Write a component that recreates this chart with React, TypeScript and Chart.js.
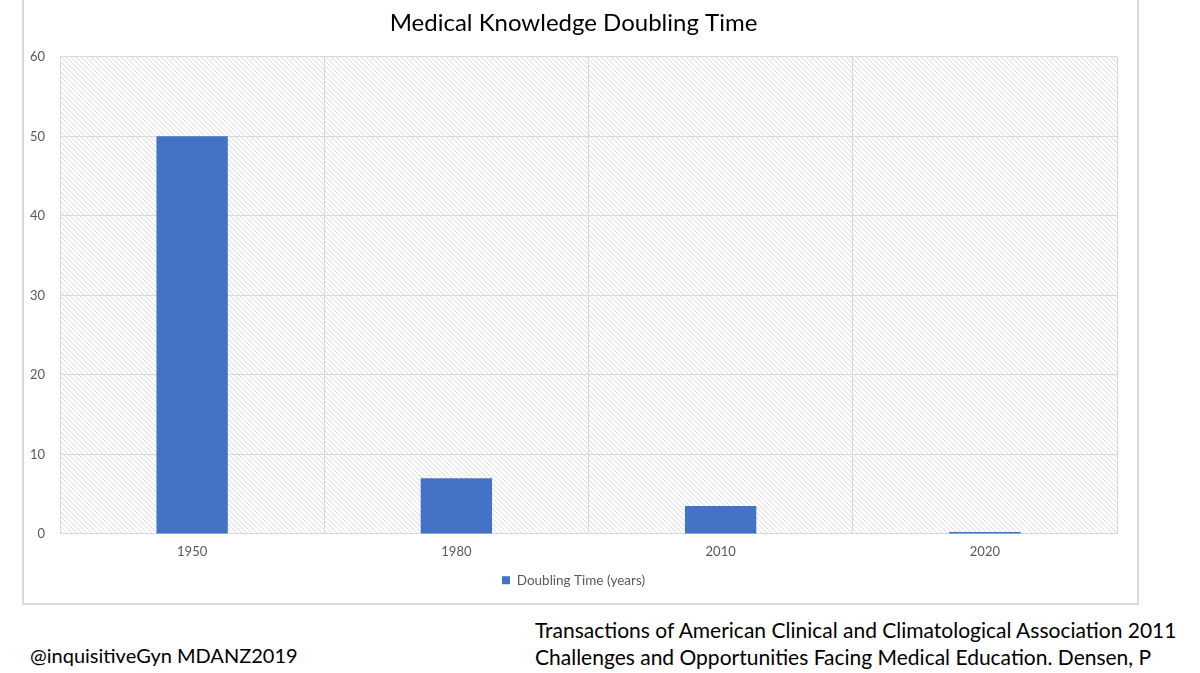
import React, { useEffect, useRef } from "react";
import { Chart, registerables } from "chart.js";

Chart.register(...registerables);

const categories = ["1950", "1980", "2010", "2020"];
const doublingTime = [50, 7, 3.5, 0.25];
const seriesLabel = "Doubling Time (years)";
const chartTitle = "Medical Knowledge Doubling Time";
const footerLeft = "@inquisitiveGyn MDANZ2019";
const footerRight = [
  "Transactions of American Clinical and Climatological Association 2011",
  "Challenges and Opportunities Facing Medical Education. Densen, P",
];

function makeHatch(): CanvasPattern | string {
  const s = 5;
  const c = document.createElement("canvas");
  c.width = s;
  c.height = s;
  const ctx = c.getContext("2d");
  if (!ctx) return "#fff";
  ctx.fillStyle = "#ffffff";
  ctx.fillRect(0, 0, s, s);
  ctx.fillStyle = "#dadada";
  for (let i = 0; i < s; i++) ctx.fillRect(i, i, 1, 1);
  const p = ctx.createPattern(c, "repeat");
  return p || "#fff";
}

const hatchPlugin = {
  id: "hatchBg",
  beforeDraw(chart: any) {
    const { ctx, chartArea } = chart;
    if (!chartArea) return;
    ctx.save();
    ctx.fillStyle = makeHatch();
    ctx.fillRect(
      chartArea.left,
      chartArea.top,
      chartArea.right - chartArea.left,
      chartArea.bottom - chartArea.top
    );
    ctx.restore();
  },
};

export default function App() {
  const ref = useRef<HTMLCanvasElement | null>(null);

  useEffect(() => {
    if (!ref.current) return;
    const chart = new Chart(ref.current, {
      type: "bar",
      data: {
        labels: categories,
        datasets: [
          {
            label: seriesLabel,
            data: doublingTime,
            backgroundColor: "#4472C4",
            borderWidth: 0,
            barPercentage: 0.27,
            categoryPercentage: 1,
          },
        ],
      },
      options: {
        responsive: false,
        animation: false,
        maintainAspectRatio: false,
        layout: { padding: { left: 6, right: 20, top: 0, bottom: 6 } },
        plugins: {
          title: {
            display: true,
            text: chartTitle,
            color: "#000000",
            font: { family: "Lato", size: 24, weight: "normal" },
            padding: { top: 9, bottom: 19 },
          },
          legend: {
            display: true,
            position: "bottom",
            labels: {
              boxWidth: 8,
              boxHeight: 8,
              color: "#595959",
              font: { family: "Lato", size: 13.5 },
              padding: 11,
            },
          },
          tooltip: { enabled: false },
        },
        scales: {
          x: {
            grid: {
              display: true,
              color: "#d9d9d9",
              drawTicks: false,
              offset: true,
            },
            border: { display: true, color: "#d9d9d9" },
            ticks: {
              color: "#595959",
              font: { family: "Lato", size: 13 },
              padding: 10,
            },
            afterFit(scale: any) {
              scale.height = scale.height - 7;
            },
          },
          y: {
            min: 0,
            max: 60,
            grid: { display: true, color: "#d9d9d9", drawTicks: false },
            border: { display: true, color: "#d9d9d9" },
            ticks: {
              stepSize: 10,
              color: "#595959",
              font: { family: "Lato", size: 13 },
              padding: 15,
            },
            afterFit(scale: any) {
              scale.width = 30;
            },
          },
        },
      },
      plugins: [hatchPlugin],
    });
    return () => chart.destroy();
  }, []);

  return (
    <div
      style={{
        position: "absolute",
        left: 0,
        top: 0,
        width: 1200,
        height: 673,
        background: "#ffffff",
        overflow: "hidden",
      }}
    >
      <div
        style={{
          position: "absolute",
          left: 22,
          top: -2,
          width: 1117,
          height: 607,
          border: "2px solid #d9d9d9",
          boxSizing: "border-box",
          background: "#fff",
        }}
      >
        <canvas
          ref={ref}
          width={1113}
          height={603}
          style={{ display: "block", position: "absolute", left: 0, top: 0 }}
        />
      </div>
      <div
        style={{
          position: "absolute",
          left: 30,
          top: 642,
          fontFamily: "Lato",
          fontSize: 20,
          color: "#000",
          whiteSpace: "nowrap",
          lineHeight: "27px",
        }}
      >
        {footerLeft}
      </div>
      <div
        style={{
          position: "absolute",
          left: 535,
          top: 616,
          fontFamily: "Lato",
          fontSize: 21,
          color: "#000",
          whiteSpace: "nowrap",
          lineHeight: "27px",
        }}
      >
        {footerRight.map((t) => (
          <div key={t}>{t}</div>
        ))}
      </div>
    </div>
  );
}
